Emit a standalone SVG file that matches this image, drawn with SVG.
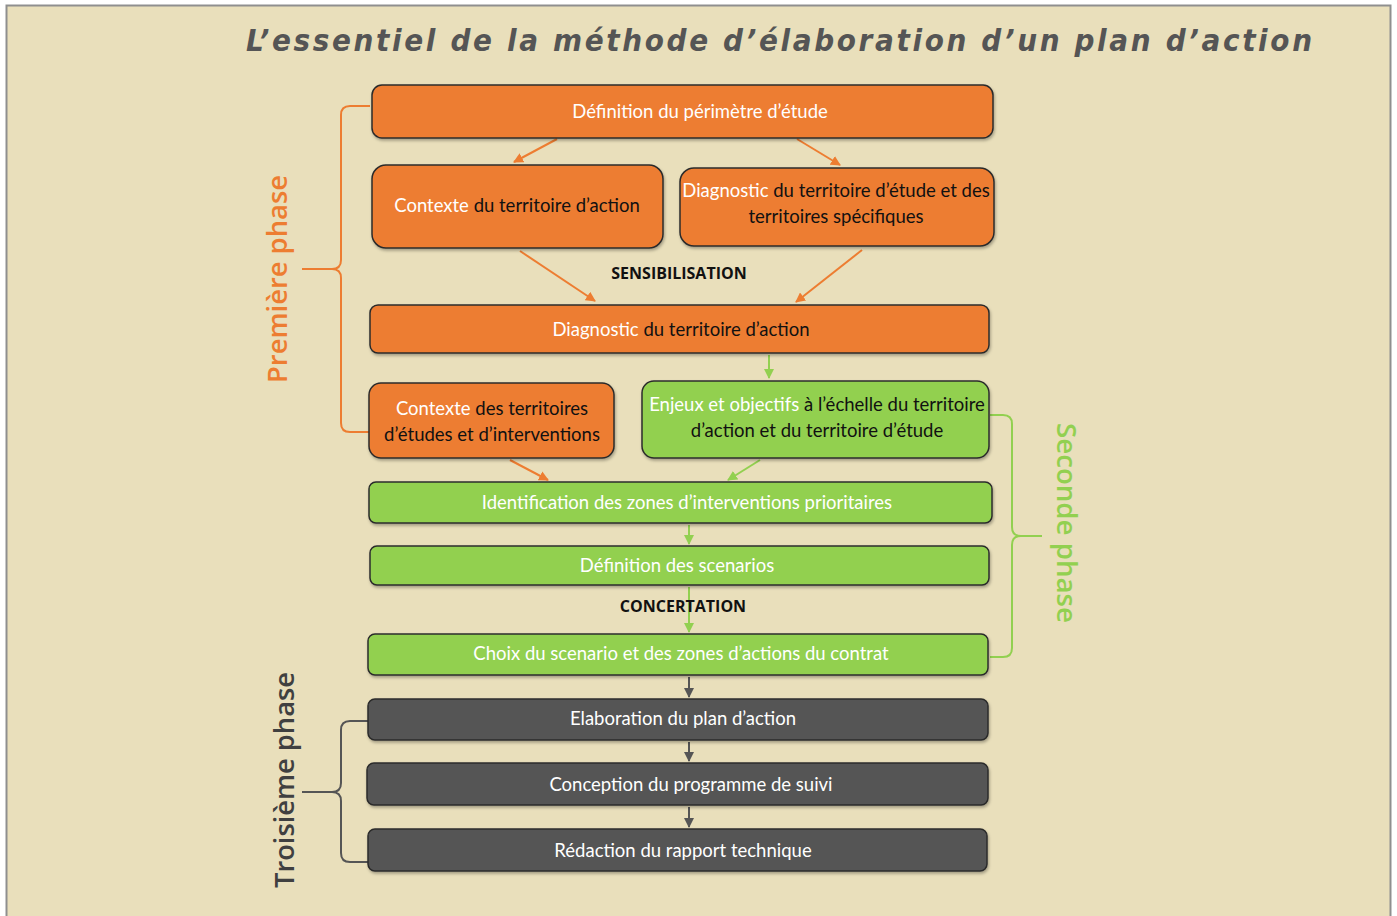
<svg xmlns="http://www.w3.org/2000/svg" width="1397" height="916" viewBox="0 0 1397 916">
<style>
.box{stroke:#2b2b2b;stroke-width:1.5}
.or{fill:#ED7D31}
.gr{fill:#92D050}
.dk{fill:#555555}
.t{font-family:Lato,"Open Sans","Liberation Sans",sans-serif;font-size:18.5px;text-anchor:middle}
.w{fill:#ffffff}
.b{fill:#111111}
.lbl{font-family:"Open Sans","Liberation Sans",sans-serif;font-size:16px;font-weight:bold;fill:#111;text-anchor:middle}
.ph{font-family:"Open Sans","Liberation Sans",sans-serif;font-size:27px;font-weight:600;text-anchor:middle}
.co{stroke:#ED7D31;stroke-width:2;fill:none}
.cg{stroke:#92D050;stroke-width:2;fill:none}
.cd{stroke:#555555;stroke-width:2;fill:none}
</style>
<defs>
<marker id="ao" viewBox="0 0 10 10" refX="9" refY="5" markerWidth="5" markerHeight="5" orient="auto"><path d="M0,0 L10,5 L0,10 z" fill="#ED7D31"/></marker>
<marker id="ag" viewBox="0 0 10 10" refX="9" refY="5" markerWidth="5" markerHeight="5" orient="auto"><path d="M0,0 L10,5 L0,10 z" fill="#92D050"/></marker>
<marker id="ad" viewBox="0 0 10 10" refX="9" refY="5" markerWidth="5" markerHeight="5" orient="auto"><path d="M0,0 L10,5 L0,10 z" fill="#555555"/></marker>
<filter id="sh" x="-5%" y="-20%" width="110%" height="150%"><feDropShadow dx="1" dy="2" stdDeviation="1.5" flood-color="#000" flood-opacity="0.3"/></filter>
</defs>
<rect x="0" y="0" width="1397" height="916" fill="#ffffff"/>
<rect x="6.5" y="5.5" width="1384" height="920" fill="#E9DFBB" stroke="#8f8f8f" stroke-width="2"/>
<text x="246" y="51" font-family="DejaVu Sans Condensed,DejaVu Sans,sans-serif" font-stretch="condensed" font-size="31" font-weight="bold" font-style="italic" fill="#555555" textLength="1066" lengthAdjust="spacing">L’essentiel de la méthode d’élaboration d’un plan d’action</text>

<g id="connectors">
<line class="co" x1="557" y1="139" x2="514" y2="162" marker-end="url(#ao)"/>
<line class="co" x1="797" y1="139" x2="840" y2="165" marker-end="url(#ao)"/>
<line class="co" x1="520" y1="251" x2="595" y2="301" marker-end="url(#ao)"/>
<line class="co" x1="862" y1="250" x2="796" y2="302" marker-end="url(#ao)"/>
<line class="cg" x1="769" y1="355" x2="769" y2="378" marker-end="url(#ag)"/>
<line class="co" x1="510" y1="460" x2="548" y2="480" marker-end="url(#ao)"/>
<line class="cg" x1="760" y1="460" x2="728" y2="480" marker-end="url(#ag)"/>
<line class="cg" x1="689" y1="525" x2="689" y2="544" marker-end="url(#ag)"/>
<line class="cg" x1="689" y1="587" x2="689" y2="632" marker-end="url(#ag)"/>
<line class="cd" x1="689" y1="677" x2="689" y2="697" marker-end="url(#ad)"/>
<line class="cd" x1="689" y1="742" x2="689" y2="761" marker-end="url(#ad)"/>
<line class="cd" x1="689" y1="807" x2="689" y2="827" marker-end="url(#ad)"/>
</g>

<g id="brace1">
<path class="co" d="M370,106 L350,106 Q341,106 341,115 L341,260 Q341,269 332,269 L302,269 M332,269 Q341,269 341,278 L341,423 Q341,432 350,432 L370,432"/>
<text class="ph" fill="#ED7D31" transform="translate(287,279) rotate(-90)" textLength="208" lengthAdjust="spacingAndGlyphs">Première phase</text>
</g>
<g id="brace2">
<path class="cg" d="M990,415 L1003,415 Q1012,415 1012,424 L1012,527 Q1012,536 1021,536 L1042,536 M1021,536 Q1012,536 1012,545 L1012,648 Q1012,657 1003,657 L990,657"/>
<text class="ph" fill="#92D050" transform="translate(1057,523) rotate(90)" textLength="200" lengthAdjust="spacingAndGlyphs">Seconde phase</text>
</g>
<g id="brace3">
<path class="cd" d="M368,721 L350,721 Q341,721 341,730 L341,783 Q341,792 332,792 L302,792 M332,792 Q341,792 341,801 L341,853 Q341,862 350,862 L368,862"/>
<text class="ph" fill="#404040" transform="translate(294,780) rotate(-90)" textLength="216" lengthAdjust="spacingAndGlyphs">Troisième phase</text>
</g>

<g id="n1"><rect class="box or" filter="url(#sh)" x="372" y="85" width="621" height="53" rx="10"/><text class="t w" x="700" y="118">Définition du périmètre d’étude</text></g>
<g id="n2"><rect class="box or" filter="url(#sh)" x="372" y="165" width="291" height="83" rx="14"/><text class="t" x="517" y="212"><tspan class="w">Contexte</tspan><tspan class="b"> du territoire d’action</tspan></text></g>
<g id="n3"><rect class="box or" filter="url(#sh)" x="680" y="168" width="314" height="78" rx="14"/><text class="t" x="836" y="197"><tspan class="w">Diagnostic</tspan><tspan class="b"> du territoire d’étude et des</tspan></text><text class="t b" x="836" y="223">territoires spécifiques</text></g>
<g id="sens"><text class="lbl" x="679" y="279">SENSIBILISATION</text></g>
<g id="n4"><rect class="box or" filter="url(#sh)" x="370" y="305" width="619" height="48" rx="8"/><text class="t" x="681" y="336"><tspan class="w">Diagnostic</tspan><tspan class="b"> du territoire d’action</tspan></text></g>
<g id="n5"><rect class="box or" filter="url(#sh)" x="369" y="383" width="245" height="75" rx="12"/><text class="t" x="492" y="415"><tspan class="w">Contexte</tspan><tspan class="b"> des territoires</tspan></text><text class="t b" x="492" y="441">d’études et d’interventions</text></g>
<g id="n6"><rect class="box gr" filter="url(#sh)" x="642" y="381" width="347" height="77" rx="12"/><text class="t" x="817" y="411"><tspan class="w">Enjeux et objectifs</tspan><tspan class="b"> à l’échelle du territoire</tspan></text><text class="t b" x="817" y="437">d’action et du territoire d’étude</text></g>
<g id="n7"><rect class="box gr" filter="url(#sh)" x="369" y="482" width="623" height="41" rx="7"/><text class="t w" x="687" y="509">Identification des zones d’interventions prioritaires</text></g>
<g id="n8"><rect class="box gr" filter="url(#sh)" x="370" y="546" width="619" height="39" rx="7"/><text class="t w" x="677" y="572">Définition des scenarios</text></g>
<g id="conc"><text class="lbl" x="683" y="612">CONCERTATION</text></g>
<g id="n9"><rect class="box gr" filter="url(#sh)" x="368" y="634" width="620" height="41" rx="7"/><text class="t w" x="681" y="660">Choix du scenario et des zones d’actions du contrat</text></g>
<g id="n10"><rect class="box dk" filter="url(#sh)" x="368" y="699" width="620" height="41" rx="7"/><text class="t w" x="683" y="725">Elaboration du plan d’action</text></g>
<g id="n11"><rect class="box dk" filter="url(#sh)" x="367" y="763" width="621" height="42" rx="7"/><text class="t w" x="691" y="791">Conception du programme de suivi</text></g>
<g id="n12"><rect class="box dk" filter="url(#sh)" x="368" y="829" width="619" height="42" rx="7"/><text class="t w" x="683" y="857">Rédaction du rapport technique</text></g>
</svg>
